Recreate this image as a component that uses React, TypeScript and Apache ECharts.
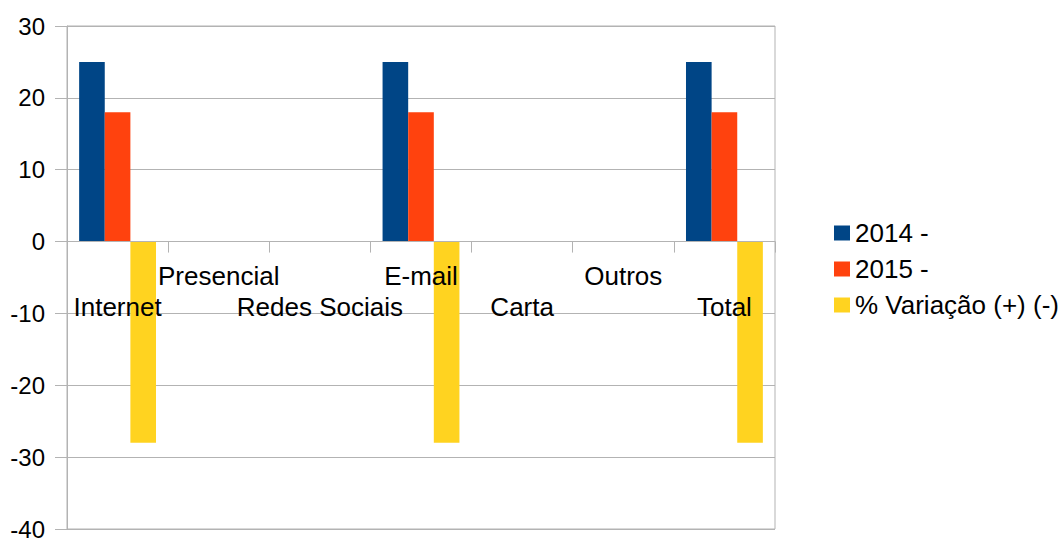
import React, { useEffect, useRef } from "react";
import * as echarts from "echarts";

const categories = ["Internet", "Presencial", "Redes Sociais", "E-mail", "Carta", "Outros", "Total"];
const series2014 = [25, 0, 0, 25, 0, 0, 25];
const series2015 = [18, 0, 0, 18, 0, 0, 18];
const seriesVar = [-28, 0, 0, -28, 0, 0, -28];
const seriesNames = ["2014 -", "2015 -", "% Variação (+) (-)"];
const colors = ["#004586", "#ff420e", "#ffd320"];
const yMin = -40;
const yMax = 30;

const FONT = "'Liberation Sans', Arial, sans-serif";

const GRID_TOP = 26;
const GRID_BOTTOM = 11;
const CHART_H = 540;

export default function App() {
  const ref = useRef<HTMLDivElement>(null);
  useEffect(() => {
    if (!ref.current) return;
    const chart = echarts.init(ref.current, undefined, { renderer: "svg" });
    const plotH = CHART_H - GRID_TOP - GRID_BOTTOM;
    const zeroFromBottom = (plotH * (0 - yMin)) / (yMax - yMin);
    chart.setOption({
      animation: false,
      color: colors,
      textStyle: { fontFamily: FONT },
      grid: {
        left: 67,
        right: 287,
        top: GRID_TOP,
        bottom: GRID_BOTTOM,
        show: true,
        borderColor: "#b3b3b3",
        borderWidth: 1,
        outerBoundsMode: "none",
        containLabel: false,
      },
      legend: {
        orient: "vertical",
        left: 829,
        top: 215,
        itemWidth: 16,
        itemHeight: 15,
        itemGap: 10,
        icon: "rect",
        textStyle: { fontSize: 26, color: "#000", fontFamily: FONT, lineHeight: 26 },
        data: seriesNames,
      },
      xAxis: {
        type: "category",
        data: categories,
        position: "bottom",
        offset: -zeroFromBottom,
        z: 10,
        axisLine: { onZero: false, lineStyle: { color: "#b3b3b3" } },
        axisTick: { show: true, length: 11, lineStyle: { color: "#b3b3b3" } },
        axisLabel: {
          interval: 0,
          margin: 19,
          fontSize: 26,
          color: "#000",
          fontFamily: FONT,
          lineHeight: 31,
          hideOverlap: false,
          formatter: (v: string, i: number) => (i % 2 === 0 ? "\n" + v : v),
        },
        splitLine: { show: false },
      },
      yAxis: {
        type: "value",
        min: yMin,
        max: yMax,
        interval: 10,
        axisLine: { show: true, lineStyle: { color: "#b3b3b3" } },
        axisTick: { show: true, length: 12, lineStyle: { color: "#b3b3b3" } },
        axisLabel: { margin: 22, fontSize: 24, color: "#000", fontFamily: FONT },
        splitLine: { show: true, lineStyle: { color: "#b3b3b3" } },
      },
      series: [
        { name: seriesNames[0], type: "bar", data: series2014, barGap: 0, barCategoryGap: "24%" },
        { name: seriesNames[1], type: "bar", data: series2015, barGap: 0, barCategoryGap: "24%" },
        { name: seriesNames[2], type: "bar", data: seriesVar, barGap: 0, barCategoryGap: "24%" },
      ],
    });
    return () => chart.dispose();
  }, []);
  return (
    <div
      ref={ref}
      style={{ position: "absolute", left: 0, top: 0, width: 1062, height: 540, background: "#fff" }}
    />
  );
}
